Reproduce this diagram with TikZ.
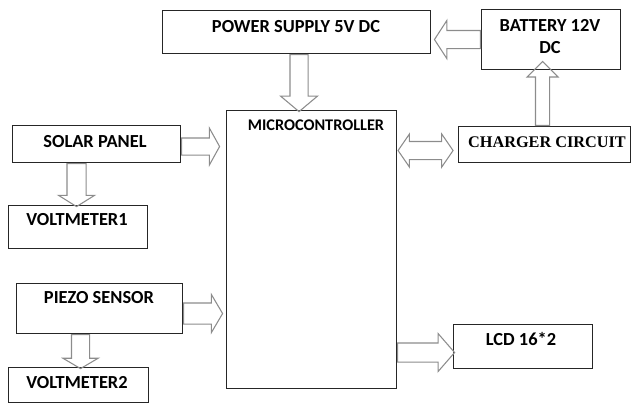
\documentclass[tikz,border=0pt]{standalone}
\usepackage{fontspec}
\newfontfamily\calfont{Carlito}
\newfontfamily\timesfont{Liberation Serif}
\usetikzlibrary{shapes.arrows,calc}
\newcommand{\unitpx}{0.75pt}

\begin{document}
\begin{tikzpicture}[
    x=0.75pt, y=-0.75pt,
    block/.style={rectangle, draw=black!85, line width=0.8pt, anchor=north west, inner sep=0pt},
    lbl/.style={font=\calfont\bfseries\fontsize{13.8}{17}\selectfont, align=center, inner sep=0pt},
    barrow/.style n args={4}{single arrow, draw=gray!90, line width=0.8pt, minimum width=0pt, anchor=tail, minimum height=#1*\unitpx, inner sep=#2*\unitpx/2, single arrow head extend=#3*\unitpx, single arrow tip angle=#4},
    darrow/.style={double arrow, draw=gray!90, line width=0.8pt, minimum width=0pt}
]
    \useasboundingbox (0,0) rectangle (635,411);

    % blocks
    \node[block, minimum width=268*\unitpx, minimum height=43*\unitpx] (psu) at (162,10) {};
    \node[block, minimum width=139*\unitpx, minimum height=60*\unitpx] (bat) at (481,9) {};
    \node[block, minimum width=170*\unitpx, minimum height=278*\unitpx] (mcu) at (226,110) {};
    \node[block, minimum width=172*\unitpx, minimum height=36*\unitpx] (chg) at (458,126) {};
    \node[block, minimum width=168*\unitpx, minimum height=37*\unitpx] (sol) at (12,125) {};
    \node[block, minimum width=139*\unitpx, minimum height=43*\unitpx] (vm1) at (8,205) {};
    \node[block, minimum width=166*\unitpx, minimum height=50*\unitpx] (pz) at (16,283) {};
    \node[block, minimum width=140*\unitpx, minimum height=35*\unitpx] (vm2) at (8,367) {};
    \node[block, minimum width=139*\unitpx, minimum height=44*\unitpx] (lcd) at (453,324) {};

    % labels
    \node[lbl] (psuT) at (296,27) {POWER SUPPLY 5V DC};
    \node[lbl] (batT) at (550,36.5) {BATTERY 12V\\DC};
    \node[lbl, font=\calfont\bfseries\fontsize{12.2}{15}\selectfont] (mcuT) at (316,125) {MICROCONTROLLER};
    \node[lbl, font=\timesfont\bfseries\fontsize{12.2}{14}\selectfont] (chgT) at (547,142) {CHARGER CIRCUIT};
    \node[lbl] (solT) at (95,142) {SOLAR PANEL};
    \node[lbl] (vm1T) at (77,220) {VOLTMETER1};
    \node[lbl] (pzT) at (99,298) {PIEZO SENSOR};
    \node[lbl] (vm2T) at (77,383) {VOLTMETER2};
    \node[lbl] (lcdT) at (521,339) {LCD 16*2};

    % block arrows
    \node[barrow={46}{17}{10}{114}, shape border rotate=180] (batPsu) at (bat.west) {};
    \node[barrow={57}{17}{9.5}{100}, shape border rotate=270] (psuMcu) at ($(psu.south)+(2.5,0)$) {};
    \node[barrow={64}{13}{8.5}{90}, shape border rotate=90] (chgBat) at ($(chg.north)+(-2,0)$) {};
    \node[barrow={38}{16}{10}{122}] (solMcu) at ($(sol.east)+(0,2.5)$) {};
    \node[barrow={43}{18}{8.5}{116}, shape border rotate=270] (solVm) at ($(vm1.north |- sol.south)+(-1.5,0)$) {};
    \node[barrow={39}{20}{8.5}{119}] (pzMcu) at ($(pz.east)+(0,5)$) {};
    \node[barrow={34}{17}{8.5}{119}, shape border rotate=270] (pzVm) at ($(vm2.north |- pz.south)+(2,0)$) {};
    \node[barrow={57}{18}{9.5}{98}] (mcuLcd) at ($(mcu.east |- lcd.west)+(0,6)$) {};
    \node[darrow, minimum height=55*\unitpx, inner sep=8.5*\unitpx, double arrow head extend=7.5*\unitpx, double arrow tip angle=111] (mcuChg) at ($(mcu.east |- chg.west)+(28.5,6)$) {};
\end{tikzpicture}
\end{document}
